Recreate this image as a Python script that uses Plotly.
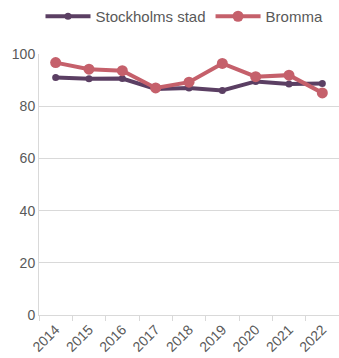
import plotly.graph_objects as go

years = ["2014", "2015", "2016", "2017", "2018", "2019", "2020", "2021", "2022"]
stockholm = [91.0, 90.5, 90.6, 86.6, 87.0, 86.0, 89.5, 88.5, 88.7]
bromma = [96.7, 94.2, 93.6, 87.0, 89.2, 96.4, 91.3, 91.9, 85.1]

purple = "#5b3f63"
rose = "#c5606b"
grid = "#d9d9d9"
text = "#595959"

fig = go.Figure()
fig.add_trace(go.Scatter(
    x=years, y=stockholm, name="Stockholms stad", mode="lines+markers",
    line=dict(color=purple, width=4), marker=dict(color=purple, size=7),
))
fig.add_trace(go.Scatter(
    x=years, y=bromma, name="Bromma", mode="lines+markers",
    line=dict(color=rose, width=4), marker=dict(color=rose, size=11),
))

fig.update_layout(
    width=339, height=358,
    margin=dict(l=39, r=0, t=54, b=43),
    paper_bgcolor="white", plot_bgcolor="white",
    font=dict(family="Liberation Sans, Arial, sans-serif", size=14, color=text),
    showlegend=True,
    legend=dict(
        orientation="h", x=0.485, xanchor="center", y=1.0, yanchor="top",
        yref="container", font=dict(size=15, color=text), itemwidth=45,
        bgcolor="rgba(0,0,0,0)",
    ),
    xaxis=dict(
        type="category", range=[-0.5, 8.5], showgrid=False,
        showline=True, linecolor=grid, linewidth=1,
        ticks="outside", tickson="boundaries", ticklen=5, tickcolor=grid,
        tickangle=-45, automargin=False, tickfont=dict(size=14),
    ),
    yaxis=dict(
        range=[0, 100], tickvals=[0, 20, 40, 60, 80, 100],
        showgrid=True, gridcolor=grid, gridwidth=1,
        showline=True, linecolor=grid, linewidth=1,
        zeroline=False, ticks="", automargin=False, tickfont=dict(size=14),
    ),
)

fig.write_html("out.html")
